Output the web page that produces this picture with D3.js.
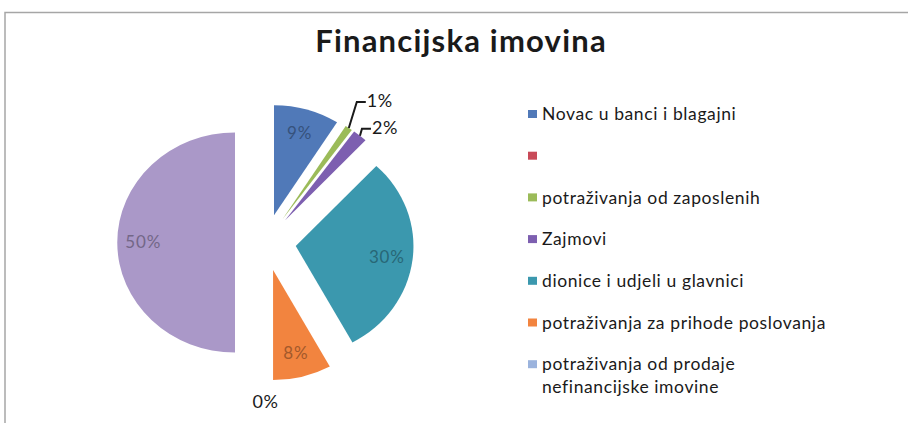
<!DOCTYPE html>
<html>
<head>
<meta charset="utf-8">
<script src="https://cdn.jsdelivr.net/npm/d3@7"></script>
<style>
  body { margin: 0; background: #fff; }
  text { font-family: Lato, "Noto Sans", sans-serif; }
</style>
</head>
<body>
<div id="chart"></div>
<script>
var categories = [
    "Novac u banci i blagajni",
    "",
    "potraživanja od zaposlenih",
    "Zajmovi",
    "dionice i udjeli u glavnici",
    "potraživanja za prihode poslovanja",
    "potraživanja od prodaje nefinancijske imovine",
    ""
];
var values = [9, 0, 1, 2, 30, 8, 0, 50];
var labels = ["9%", "0%", "1%", "2%", "30%", "8%", "0%", "50%"];
var colors = ["#5079b8", "#c84a58", "#9bbb59", "#7d5fb0", "#3b98ae", "#f2843f", "#9bb3dd", "#aa98c8"];
var legendCount = 7;

var width = 908, height = 423;
var cx = 265.5, cy = 242.5, r = 110, sx = 1.07, explode = 28.5;

var svg = d3.select("#chart")
    .append("svg")
        .attr("width", width)
        .attr("height", height);

// frame
svg.append("path")
    .attr("d", "M5," + height + "V12.5H" + width)
    .attr("fill", "none")
    .attr("stroke", "#a6a6a6")
    .attr("stroke-width", 1.5);

svg.append("text")
    .attr("x", 461)
    .attr("y", 52)
    .attr("text-anchor", "middle")
    .attr("font-size", "31px")
    .attr("font-weight", "bold")
    .attr("letter-spacing", "1.2px")
    .style("fill", "#1a1a1a")
    .text("Financijska imovina");

var data = values.map(function(v, i) {
    return { name: categories[i], value: v, label: labels[i], color: colors[i], i: i };
});

var pie = d3.pie()
    .sort(null)
    .value(function(d) { return d.value; });

var arcs = pie(data);

var arc = d3.arc().innerRadius(0).outerRadius(r);

// offset of exploded slice, in screen px
function offset(d, k) {
    var a = (d.startAngle + d.endAngle) / 2;
    return [Math.sin(a) * k * sx, -Math.cos(a) * k];
}
function point(d, rad) {
    var o = offset(d, explode);
    var a = (d.startAngle + d.endAngle) / 2;
    return [cx + o[0] + Math.sin(a) * rad * sx, cy + o[1] - Math.cos(a) * rad];
}

svg.append("g")
    .selectAll("path")
    .data(arcs.filter(function(d) { return d.data.value > 0; }))
    .enter()
    .append("path")
        .attr("transform", function(d) {
            var o = offset(d, explode);
            return "translate(" + (cx + o[0]) + "," + (cy + o[1]) + ") scale(" + sx + ",1)";
        })
        .attr("d", arc)
        .style("fill", function(d) { return d.data.color; });

// inside labels
svg.append("g")
    .selectAll("text")
    .data(arcs.filter(function(d) { return d.data.value >= 5; }))
    .enter()
    .append("text")
        .attr("x", function(d) { return point(d, r * 0.78)[0]; })
        .attr("y", function(d) { return point(d, r * 0.78)[1]; })
        .attr("dy", "0.35em")
        .attr("text-anchor", "middle")
        .attr("font-size", "17px")
        .attr("letter-spacing", "0.8px")
        .style("fill", function(d) { return d3.color(d.data.color).darker(1.1); })
        .text(function(d) { return d.data.label; });

// small slices with leader lines
var lifts = [26, 7];
var small = arcs.filter(function(d) { return d.data.value > 0 && d.data.value < 5; });
small.forEach(function(d, k) {
    var p0 = point(d, r);
    var elbow = [p0[0] + (k == 0 ? 8 : 2), p0[1] - lifts[k]];
    var p1 = [elbow[0] + 9, elbow[1]];
    svg.append("path")
        .attr("d", d3.line()([p0, elbow, p1]))
        .attr("fill", "none")
        .attr("stroke", "#1a1a1a")
        .attr("stroke-width", 2);
    svg.append("text")
        .attr("x", p1[0] + 1)
        .attr("y", p1[1])
        .attr("dy", "0.3em")
        .attr("font-size", "18px")
        .attr("letter-spacing", "0.5px")
        .style("fill", "#1a1a1a")
        .text(d.data.label);
});

// zero label below the pie
arcs.filter(function(d) { return d.data.value == 0 && d.index == 6; }).forEach(function(d) {
    var p = point(d, r * 1.19);
    svg.append("text")
        .attr("x", p[0])
        .attr("y", p[1])
        .attr("dy", "0.35em")
        .attr("text-anchor", "middle")
        .attr("font-size", "18px")
        .attr("letter-spacing", "0.5px")
        .style("fill", "#1a1a1a")
        .text(d.data.label);
});

// legend
var legend = svg.append("g")
    .attr("transform", "translate(528,114)");

var rows = legend.selectAll("g")
    .data(data.slice(0, legendCount))
    .enter()
    .append("g")
        .attr("transform", function(d, i) { return "translate(0," + (i * 41.7) + ")"; });

rows.append("rect")
    .attr("x", 0)
    .attr("y", -4)
    .attr("width", 9)
    .attr("height", 8)
    .style("fill", function(d) { return d.color; });

var lines = [
    ["Novac u banci i blagajni"], [""], ["potraživanja od zaposlenih"], ["Zajmovi"],
    ["dionice i udjeli u glavnici"], ["potraživanja za prihode poslovanja"],
    ["potraživanja od prodaje", "nefinancijske imovine"]
];

rows.append("text")
    .attr("x", 14)
    .attr("y", 0)
    .attr("font-size", "17.5px")
    .attr("letter-spacing", "0.6px")
    .style("fill", "#1a1a1a")
    .selectAll("tspan")
    .data(function(d, i) { return lines[i]; })
    .enter()
    .append("tspan")
        .attr("x", 14)
        .attr("dy", function(d, j) { return j == 0 ? "0.35em" : "1.3em"; })
        .text(function(d) { return d; });
</script>
</body>
</html>
